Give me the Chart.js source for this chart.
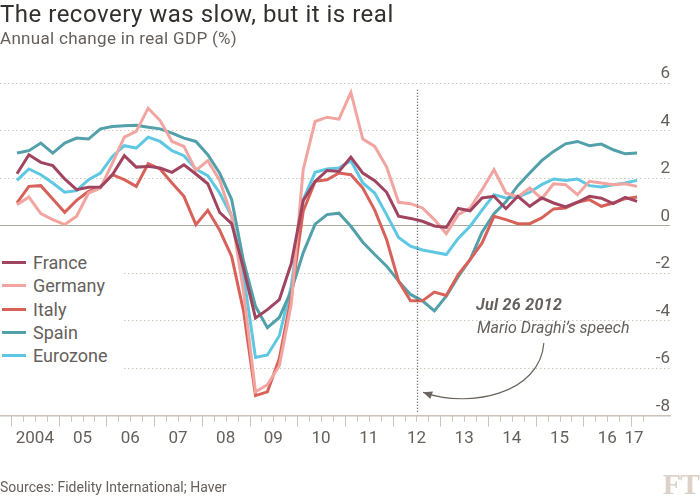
<!DOCTYPE html>
<html>
<head>
<meta charset="utf-8">
<script src="https://cdn.jsdelivr.net/npm/chart.js@4.4.0/dist/chart.umd.min.js"></script>
<style>
  body { margin: 0; background: #fff; font-family: Roboto, sans-serif; }
  #wrap { position: relative; width: 700px; height: 497px; overflow: hidden; background: #fff; }
  canvas { position: absolute; left: 0; top: 0; }
  .txt { position: absolute; white-space: nowrap; }
  #title { left: 0; top: 2px; font-size: 24px; line-height: 24px; letter-spacing: 0.5px; color: #33302e; }
  #subtitle { left: 0; top: 30px; font-size: 17px; line-height: 17px; letter-spacing: 0.3px; color: #66605c; }
  #source { left: 0; top: 480px; font-size: 14px; line-height: 14px; color: #66605c; }
  #logo { right: 1px; top: 469px; font-family: "Liberation Serif", serif; font-weight: bold; font-size: 30px; line-height: 30px; color: #ddd2c9; letter-spacing: -1px; }
  #legend { position: absolute; left: 0; top: 249px; width: 122px; height: 123px; background: #fff; }
  .row { position: absolute; left: 0; height: 23px; font-size: 18px; line-height: 23px; color: #66605c; }
  .row span { position: absolute; left: 2px; top: 10px; width: 24px; height: 3px; }
  .row b { position: absolute; left: 33px; top: 0; font-weight: normal; }
  #ann1 { left: 476px; top: 297px; font-size: 16px; line-height: 16px; font-weight: bold; font-style: italic; letter-spacing: 0.3px; color: #66605c; }
  #ann2 { left: 477px; top: 320px; font-size: 16px; line-height: 16px; font-style: italic; color: #66605c; }
</style>
</head>
<body>
<div id="wrap">
  <canvas id="chart" width="700" height="497"></canvas>
  <div class="txt" id="title">The recovery was slow, but it is real</div>
  <div class="txt" id="subtitle">Annual change in real GDP (%)</div>
  <div id="legend"></div>
  <div class="txt" id="ann1">Jul 26 2012</div>
  <div class="txt" id="ann2">Mario Draghi’s speech</div>
  <div class="txt" id="source">Sources: Fidelity International; Haver</div>
  <div class="txt" id="logo">FT</div>
</div>
<script>
// quarterly observations, 2004 Q1 to 2017 Q1
const quarters = [
  '2004Q1', '2004Q2', '2004Q3', '2004Q4', '2005Q1', '2005Q2', '2005Q3', '2005Q4',
  '2006Q1', '2006Q2', '2006Q3', '2006Q4', '2007Q1', '2007Q2', '2007Q3', '2007Q4',
  '2008Q1', '2008Q2', '2008Q3', '2008Q4', '2009Q1', '2009Q2', '2009Q3', '2009Q4',
  '2010Q1', '2010Q2', '2010Q3', '2010Q4', '2011Q1', '2011Q2', '2011Q3', '2011Q4',
  '2012Q1', '2012Q2', '2012Q3', '2012Q4', '2013Q1', '2013Q2', '2013Q3', '2013Q4',
  '2014Q1', '2014Q2', '2014Q3', '2014Q4', '2015Q1', '2015Q2', '2015Q3', '2015Q4',
  '2016Q1', '2016Q2', '2016Q3', '2016Q4', '2017Q1'
];

const france = [
  2.18, 2.98, 2.66, 2.52, 1.96, 1.51, 1.61, 1.62, 2.14, 2.94, 2.46, 2.49, 2.42, 2.24, 2.56, 2.17,
  1.76, 0.55, 0.08, -1.8, -3.89, -3.54, -3.12, -1.6, 1.05, 1.86, 2.32, 2.28, 2.88, 2.21, 1.89, 1.4,
  0.39, 0.3, 0.18, -0.02, -0.08, 0.72, 0.62, 1.16, 1.23, 0.71, 1.23, 0.81, 1.16, 0.95, 0.78, 0.98,
  1.23, 1.15, 0.92, 1.19, 1.02
];
const germany = [
  0.88, 1.2, 0.5, 0.25, 0.04, 0.39, 1.37, 1.58, 2.63, 3.72, 3.96, 4.94, 4.42, 3.54, 3.33, 2.32,
  2.73, 1.9, 0.4, -2.8, -7.0, -6.7, -5.9, -3.3, 2.35, 4.38, 4.56, 4.48, 5.6, 3.64, 3.33, 2.46,
  0.98, 0.92, 0.74, 0.25, -0.34, 0.46, 0.74, 1.51, 2.35, 1.37, 1.2, 1.58, 1.13, 1.76, 1.72, 1.3,
  1.86, 1.79, 1.72, 1.76, 1.65
];
const italy = [
  0.95, 1.65, 1.68, 1.12, 0.56, 1.06, 1.44, 1.62, 2.14, 1.93, 1.65, 2.6, 2.38, 1.79, 1.23, 0.04,
  0.64, -0.2, -1.3, -3.6, -7.16, -7.0, -5.6, -3.0, 0.6, 1.86, 1.93, 2.21, 2.14, 1.58, 0.65, -0.6,
  -2.34, -3.17, -3.17, -2.8, -2.94, -2.06, -1.43, -0.73, 0.39, 0.25, 0.08, 0.08, 0.32, 0.7, 0.74, 0.98,
  1.09, 0.81, 0.95, 1.13, 1.2
];
const spain = [
  3.05, 3.15, 3.47, 3.05, 3.47, 3.68, 3.64, 4.07, 4.17, 4.2, 4.22, 4.14, 4.07, 3.89, 3.68, 3.54,
  2.98, 2.2, 1.1, -1.5, -3.4, -4.3, -3.87, -2.75, -1.15, 0.06, 0.46, 0.52, -0.03, -0.7, -1.22, -1.71,
  -2.34, -2.9, -3.17, -3.59, -2.97, -2.15, -1.43, -0.28, 0.5, 1.0, 1.68, 2.21, 2.73, 3.12, 3.44, 3.54,
  3.36, 3.43, 3.19, 3.02, 3.05
];
const eurozone = [
  1.9, 2.38, 2.14, 1.79, 1.4, 1.47, 1.93, 2.21, 2.91, 3.36, 3.26, 3.72, 3.54, 3.15, 2.94, 2.38,
  2.1, 1.37, 0.39, -2.1, -5.55, -5.45, -4.64, -2.55, 1.09, 2.24, 2.38, 2.42, 2.73, 1.79, 1.37, 0.45,
  -0.5, -0.87, -1.03, -1.12, -1.22, -0.54, -0.03, 0.65, 1.3, 1.16, 1.2, 1.4, 1.72, 1.96, 1.9, 1.96,
  1.68, 1.62, 1.72, 1.79, 1.9
];

const seriesNames = ['France', 'Germany', 'Italy', 'Spain', 'Eurozone'];
const seriesValues = [france, germany, italy, spain, eurozone];
const seriesColors = ['#a0445f', '#f2a5a0', '#d8625a', '#52a0a9', '#5ec8e2'];

// x axis labels sit at mid-year, the last one next to the final quarter
const xLabelPos = [2004.5, 2005.5, 2006.5, 2007.5, 2008.5, 2009.5, 2010.5, 2011.5, 2012.5, 2013.5, 2014.5, 2015.5, 2016.5, 2017.06];
const xLabels = ['2004', '05', '06', '07', '08', '09', '10', '11', '12', '13', '14', '15', '16', '17'];

// annotation: Draghi speech
const speechDate = 2012.51;
const speechLine = [5.72, -7.84];
const arrowPath = [[2015.17, -4.95], [2015.09, -7.08], [2013.62, -7.72], [2012.64, -7.02]];

const qTime = q => +q.slice(0, 4) + (+q.slice(5) - 1) / 4 + 0.125;

// legend
const legend = document.getElementById('legend');
seriesNames.forEach((name, i) => {
  const row = document.createElement('div');
  row.className = 'row';
  row.style.top = (2 + i * 23.35) + 'px';
  row.innerHTML = '<span style="background:' + seriesColors[i] + '"></span><b>' + name + '</b>';
  legend.appendChild(row);
});

const extras = {
  id: 'extras',
  afterDatasetsDraw(chart) {
    const { ctx, scales: { x, y }, chartArea } = chart;
    ctx.save();

    // quarterly tick marks under the axis, longer at year starts
    ctx.strokeStyle = '#cbc2b8';
    ctx.lineWidth = 1;
    for (let yr = 2004; yr <= 2017; yr++) {
      for (let q = 0; q < 4; q++) {
        const t = yr + q / 4;
        if (t > 2017.25) break;
        const px = Math.round(x.getPixelForValue(t)) + 0.5;
        ctx.beginPath();
        ctx.moveTo(px, chartArea.bottom);
        ctx.lineTo(px, chartArea.bottom + (q === 0 ? 11 : 6));
        ctx.stroke();
      }
    }

    // dotted line on the speech date
    const sx = Math.round(x.getPixelForValue(speechDate)) + 0.5;
    ctx.strokeStyle = '#4f4a47';
    ctx.lineWidth = 1.3;
    ctx.setLineDash([1.2, 1.8]);
    ctx.beginPath();
    ctx.moveTo(sx, y.getPixelForValue(speechLine[0]));
    ctx.lineTo(sx, y.getPixelForValue(speechLine[1]));
    ctx.stroke();
    ctx.setLineDash([]);

    // curved arrow
    const p = arrowPath.map(([a, b]) => [x.getPixelForValue(a), y.getPixelForValue(b)]);
    ctx.strokeStyle = '#6b6560';
    ctx.fillStyle = '#6b6560';
    ctx.lineWidth = 1.2;
    ctx.beginPath();
    ctx.moveTo(p[0][0], p[0][1]);
    ctx.bezierCurveTo(p[1][0], p[1][1], p[2][0], p[2][1], p[3][0], p[3][1]);
    ctx.stroke();
    const ang = Math.atan2(p[3][1] - p[2][1], p[3][0] - p[2][0]);
    const tip = [p[3][0] - 2 * Math.cos(ang), p[3][1] - 2 * Math.sin(ang)];
    ctx.beginPath();
    ctx.moveTo(tip[0] + 2 * Math.cos(ang), tip[1] + 2 * Math.sin(ang));
    ctx.lineTo(tip[0] - 7 * Math.cos(ang) + 4 * Math.sin(ang), tip[1] - 7 * Math.sin(ang) - 4 * Math.cos(ang));
    ctx.lineTo(tip[0] - 7 * Math.cos(ang) - 4 * Math.sin(ang), tip[1] - 7 * Math.sin(ang) + 4 * Math.cos(ang));
    ctx.closePath();
    ctx.fill();

    ctx.restore();
  }
};

new Chart(document.getElementById('chart'), {
  type: 'line',
  data: {
    datasets: seriesNames.map((name, i) => ({
      label: name,
      data: quarters.map((q, j) => ({ x: qTime(q), y: seriesValues[i][j] })),
      borderColor: seriesColors[i],
      borderWidth: 3,
      pointRadius: 0,
      tension: 0,
      fill: false
    }))
  },
  options: {
    responsive: false,
    animation: false,
    layout: { padding: { top: 83, right: 30, bottom: 35, left: 0 } },
    plugins: { legend: { display: false }, tooltip: { enabled: false } },
    scales: {
      x: {
        type: 'linear',
        min: 2003.769,
        max: 2017.815,
        afterBuildTicks: axis => { axis.ticks = xLabelPos.map(v => ({ value: v })); },
        grid: { display: false, drawTicks: false },
        border: { display: true, color: '#cbc2b8', width: 1.5 },
        ticks: {
          autoSkip: false,
          maxRotation: 0,
          padding: 13,
          color: '#66605c',
          font: { family: 'Roboto', size: 17 },
          callback: v => xLabels[xLabelPos.indexOf(v)]
        }
      },
      y: {
        position: 'right',
        min: -8,
        max: 6,
        grid: {
          drawTicks: false,
          lineWidth: 1,
          color: c => c.tick.value === 0 ? '#a6ae9a' : (c.tick.value === -8 ? 'rgba(0,0,0,0)' : '#cfc8b8')
        },
        border: {
          display: false,
          dash: c => c.tick && c.tick.value === 0 ? [] : [1.5, 2.5]
        },
        ticks: {
          stepSize: 2,
          mirror: true,
          padding: 0,
          labelOffset: -9,
          color: '#66605c',
          font: { family: 'Roboto', size: 17 }
        }
      }
    }
  },
  plugins: [extras]
});
</script>
</body>
</html>
